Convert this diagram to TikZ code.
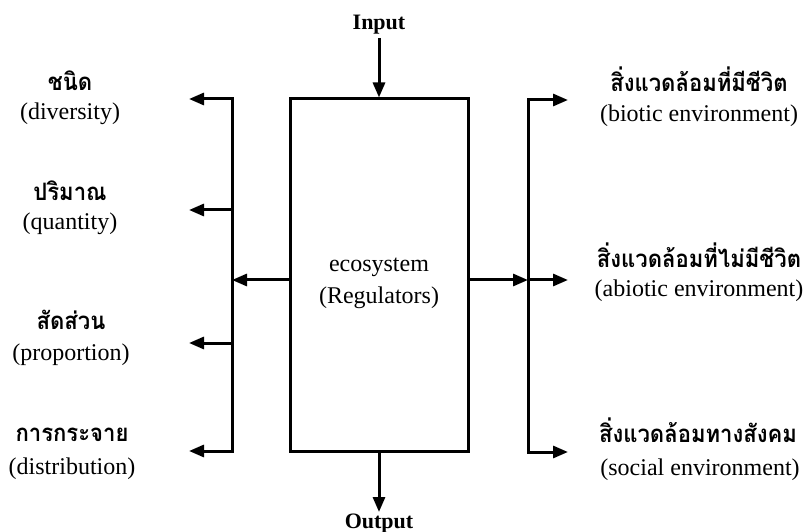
\documentclass[tikz,border=0pt]{standalone}
\usepackage{fontspec}
\setmainfont{Liberation Serif}
\newfontfamily\thaifont[Script=Thai,FakeStretch=0.92]{Loma}
\usetikzlibrary{arrows.meta}
\begin{document}
\begin{tikzpicture}[x=1pt,y=-1pt,
  wire/.style={line width=3pt},
  arr/.style={wire,-{Triangle[length=15pt,width=12pt]}},
  barr/.style={wire,{Triangle[length=15pt,width=12pt]}-{Triangle[length=15pt,width=12pt]}},
  en/.style={font=\fontsize{24}{28}\selectfont,anchor=base,inner sep=0pt},
  th/.style={font=\thaifont\bfseries\fontsize{24}{28}\selectfont,anchor=base,inner sep=0pt},
  io/.style={font=\bfseries\fontsize{22}{26}\selectfont,inner sep=3pt},
  sysbox/.style={draw,line width=3pt,minimum width=178pt,minimum height=352pt,inner sep=0pt}
]
\useasboundingbox[fill=white] (0,0) rectangle (807,532);
% central box
\node[sysbox] (eco) at (379,275) {};
\node[en] (ecoA) at (379,272) {ecosystem};
\node[en] (ecoB) at (379,304) {(Regulators)};
% input / output
\node[io,anchor=base] (inp) at (379,30) {Input};
\node[io,anchor=north,inner sep=2pt] (outp) at (379,512) {Output};
\draw[arr] (inp.south) -- (eco.north);
\draw[arr] (eco.south) -- (outp.north);
% left bus
\coordinate (lt) at (232,99);
\coordinate (lb) at (232,451);
\coordinate (lq) at (232,210);
\coordinate (lp) at (232,343);
\coordinate (lm) at (232,280);
\coordinate (ldt) at (189,99);
\coordinate (lqt) at (189,210);
\coordinate (lpt) at (189,343);
\coordinate (lbt) at (189,451);
\draw[barr] (ldt) -- (lt) -- (lb) -- (lbt);
\draw[arr] (lq) -- (lqt);
\draw[arr] (lp) -- (lpt);
\draw[arr] (eco.west |- lm) -- (lm);
% right bus
\coordinate (rt) at (528,100);
\coordinate (rb) at (528,452);
\coordinate (rm) at (528,280);
\coordinate (rtt) at (568,100);
\coordinate (rmt) at (568,280);
\coordinate (rbt) at (568,452);
\draw[barr] (rtt) -- (rt) -- (rb) -- (rbt);
\draw[arr] (eco.east |- rm) -- (rm);
\draw[arr] (rm) -- (rmt);
% left labels
\node[th] (l1t) at (70,91) {ชนิด};
\node[en] (l1e) at (70,120) {(diversity)};
\node[th] (l2t) at (70,201) {ปริมาณ};
\node[en] (l2e) at (70,230) {(quantity)};
\node[th] (l3t) at (71,329) {สัดส่วน};
\node[en] (l3e) at (71,360) {(proportion)};
\node[th] (l4t) at (72,441) {การกระจาย};
\node[en] (l4e) at (72,474) {(distribution)};
% right labels
\node[th] (r1t) at (699,92) {สิ่งแวดล้อมที่มีชีวิต};
\node[en] (r1e) at (699,122) {(biotic environment)};
\node[th] (r2t) at (699,268) {สิ่งแวดล้อมที่ไม่มีชีวิต};
\node[en] (r2e) at (699,297) {(abiotic environment)};
\node[th] (r3t) at (698,442) {สิ่งแวดล้อมทางสังคม};
\node[en] (r3e) at (700,475) {(social environment)};
\end{tikzpicture}
\end{document}
